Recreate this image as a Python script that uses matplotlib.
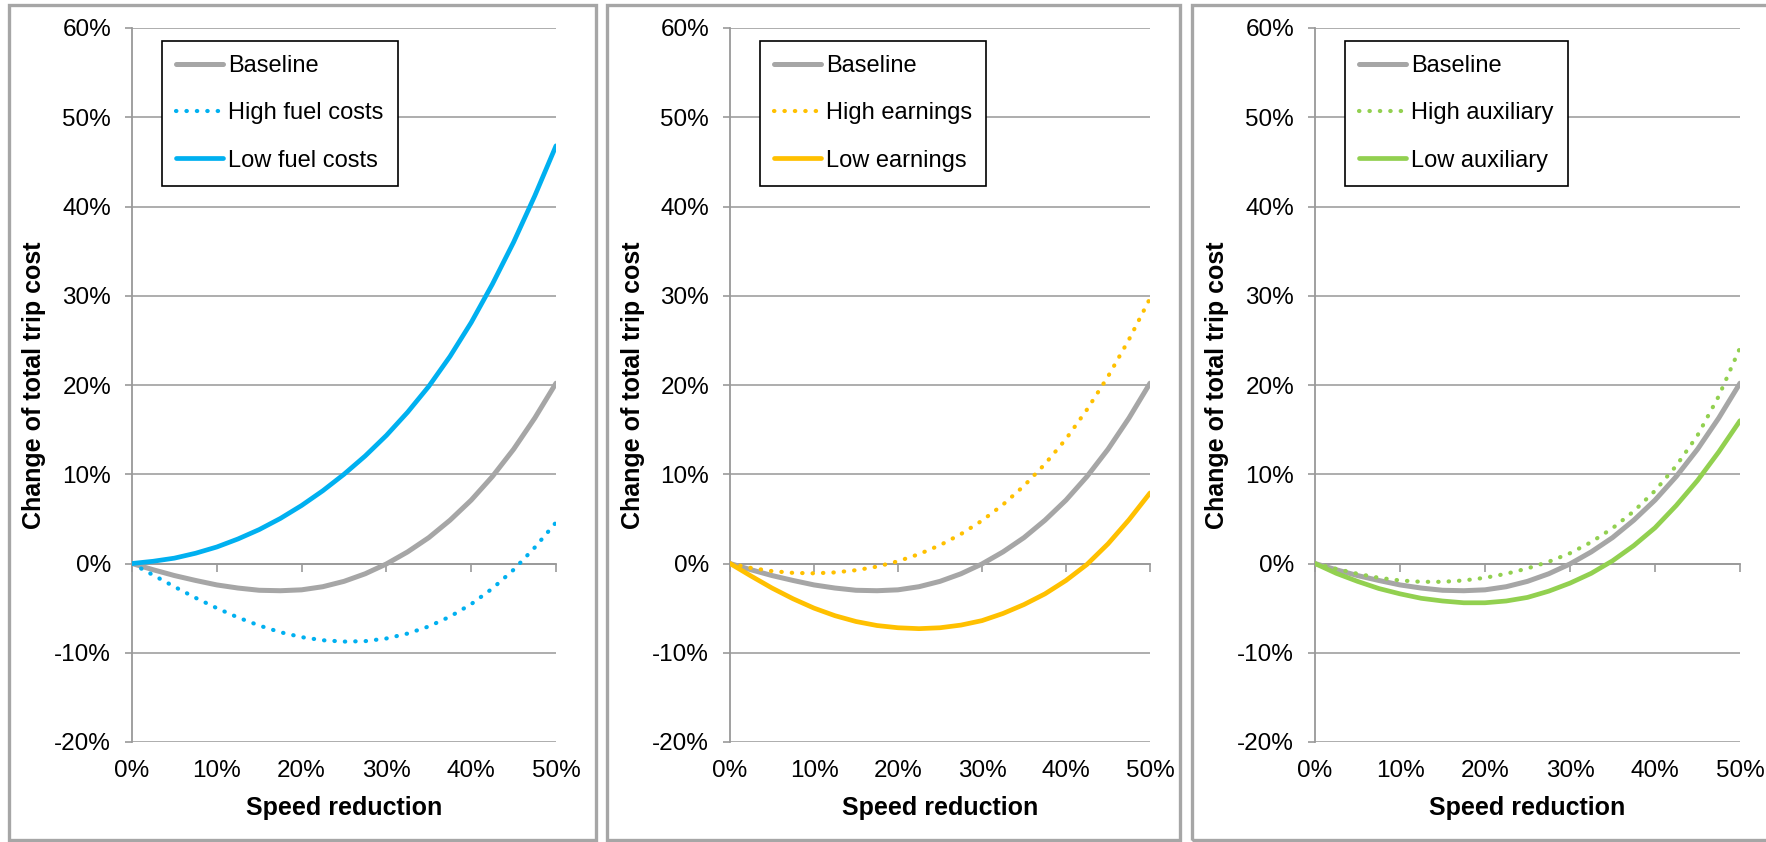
import matplotlib
matplotlib.use("Agg")
import matplotlib.pyplot as plt
from matplotlib.patches import Rectangle
from matplotlib.ticker import FuncFormatter

plt.rcParams['font.family'] = ['Liberation Sans', 'DejaVu Sans']

# Valores (em %)
speed = [0, 2.5, 5, 7.5, 10, 12.5, 15, 17.5, 20, 22.5, 25,
         27.5, 30, 32.5, 35, 37.5, 40, 42.5, 45, 47.5, 50]

baseline = [0, -0.7, -1.35, -1.9, -2.4, -2.75, -3.0, -3.05, -2.95, -2.6, -2.0,
            -1.15, -0.05, 1.3, 2.9, 4.85, 7.1, 9.75, 12.8, 16.3, 20.2]

fuel_high = [0, -1.3, -2.6, -3.85, -5.0, -6.05, -6.95, -7.7, -8.25, -8.6, -8.75,
             -8.7, -8.4, -7.85, -7.05, -5.95, -4.55, -2.8, -0.7, 1.8, 4.6]
fuel_low = [0, 0.25, 0.6, 1.15, 1.85, 2.75, 3.8, 5.05, 6.5, 8.15, 10.0,
            12.05, 14.35, 16.95, 19.85, 23.2, 27.0, 31.3, 36.0, 41.2, 46.8]

earn_high = [0, -0.5, -0.85, -1.05, -1.1, -1.0, -0.75, -0.35, 0.25, 1.05, 2.05,
             3.3, 4.8, 6.6, 8.7, 11.15, 13.95, 17.25, 20.95, 25.1, 29.7]
earn_low = [0, -1.4, -2.75, -3.95, -5.0, -5.85, -6.5, -6.95, -7.2, -7.3, -7.2,
            -6.9, -6.4, -5.6, -4.6, -3.4, -1.9, -0.1, 2.2, 4.9, 7.9]

aux_high = [0, -0.6, -1.15, -1.6, -1.9, -2.05, -2.05, -1.9, -1.6, -1.15, -0.55,
            0.2, 1.15, 2.4, 3.95, 5.85, 8.15, 10.95, 14.35, 18.75, 24.15]
aux_low = [0, -1.1, -2.0, -2.8, -3.4, -3.9, -4.2, -4.4, -4.4, -4.2, -3.8,
           -3.1, -2.2, -1.1, 0.3, 2.0, 4.0, 6.5, 9.3, 12.5, 16.0]

labels_high = ['High fuel costs', 'High earnings', 'High auxiliary']
labels_low = ['Low fuel costs', 'Low earnings', 'Low auxiliary']
cores = ['#00B0F0', '#FFC000', '#92D050']
series_high = [fuel_high, earn_high, aux_high]
series_low = [fuel_low, earn_low, aux_low]

xticks = [0, 10, 20, 30, 40, 50]
yticks = [-20, -10, 0, 10, 20, 30, 40, 50, 60]

W, H = 1766, 842
fig = plt.figure(figsize=(W / 100, H / 100), dpi=100)

# posições em pixels: (esquerda, direita) dos eixos e das molduras
eixos_px = [(132, 556), (730, 1150), (1315, 1740)]
molduras_px = [(9, 596), (607, 1180), (1192, 1775)]
topo, base = 28, 742

cinza = '#A6A6A6'
pct = FuncFormatter(lambda v, p: f"{v:.0f}%")

for i in range(3):
    # moldura de cada painel
    x0, x1 = molduras_px[i]
    fig.add_artist(Rectangle((x0 / W, 1 - 840 / H), (x1 - x0) / W, 835 / H,
                             transform=fig.transFigure, fill=False,
                             ec=cinza, lw=2.4))

    l, r = eixos_px[i]
    ax = fig.add_axes([l / W, 1 - base / H, (r - l) / W, (base - topo) / H])

    ax.plot(speed, baseline, color=cinza, lw=3.6, label='Baseline',
            solid_capstyle='round', solid_joinstyle='round', zorder=3)
    ax.plot(speed, series_high[i], color=cores[i], lw=3.0,
            linestyle=(0, (0.1, 2.4)), dash_capstyle='round',
            label=labels_high[i], zorder=3)
    ax.plot(speed, series_low[i], color=cores[i], lw=3.4, label=labels_low[i],
            solid_capstyle='round', solid_joinstyle='round', zorder=4)

    ax.set_xlim(0, 50)
    ax.set_ylim(-20, 60)
    ax.set_yticks(yticks)
    ax.set_xticks(xticks)
    ax.yaxis.set_major_formatter(pct)
    ax.grid(axis='y', color='#A0A0A0', lw=1.2)
    ax.set_axisbelow(True)

    for s in ['top', 'right']:
        ax.spines[s].set_visible(False)
    ax.spines['left'].set_color('#999999')
    ax.spines['left'].set_linewidth(1.3)
    ax.spines['bottom'].set_position(('data', 0))
    ax.spines['bottom'].set_color('#999999')
    ax.spines['bottom'].set_linewidth(1.3)

    ax.tick_params(axis='y', length=5, color='#999999', width=1.2, pad=10,
                   labelsize=17.5)
    ax.tick_params(axis='x', length=6, color='#999999', width=1.2,
                   labelbottom=False)

    # rótulos do eixo x na parte de baixo
    sec = ax.secondary_xaxis(0.0)
    sec.set_xticks(xticks)
    sec.xaxis.set_major_formatter(pct)
    sec.tick_params(length=0, pad=13, labelsize=17.5)
    sec.spines['bottom'].set_visible(False)
    sec.set_xlabel('Speed reduction', fontsize=18, fontweight='bold',
                   labelpad=10)

    ax.set_ylabel('Change of total trip cost', fontsize=18, fontweight='bold')
    ax.yaxis.set_label_coords(-0.203, 0.5)

    leg = ax.legend(loc='upper left', bbox_to_anchor=(30 / (r - l), 1 - 13 / (base - topo)),
                    borderaxespad=0, fontsize=17, frameon=True, fancybox=False,
                    edgecolor='black', framealpha=1, borderpad=0.6,
                    labelspacing=1.07, handlelength=2.0, handletextpad=0.2)
    leg.get_frame().set_linewidth(1.2)

fig.savefig('out.png', dpi=100)
